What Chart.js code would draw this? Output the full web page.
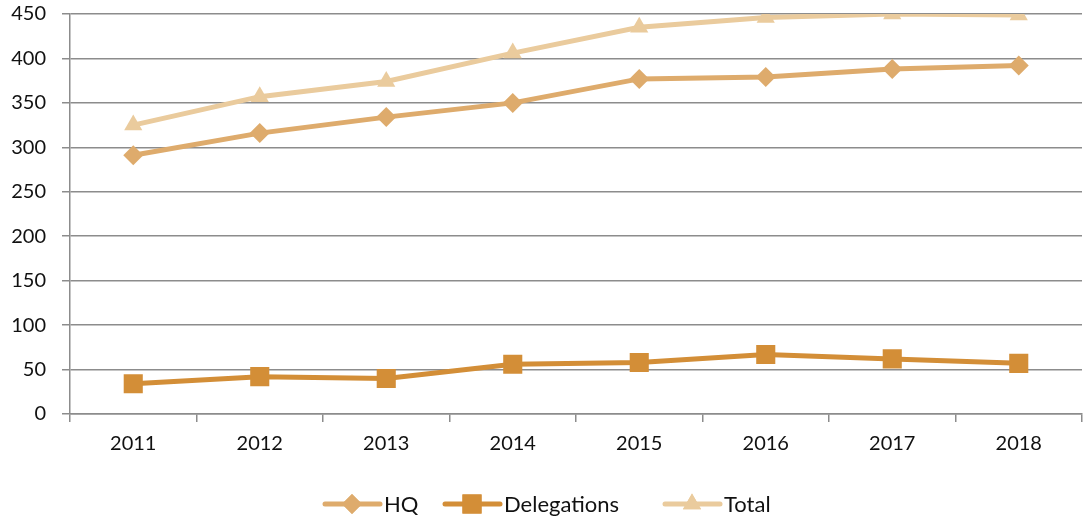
<!DOCTYPE html>
<html>
<head>
<meta charset="utf-8">
<script src="https://cdn.jsdelivr.net/npm/chart.js@4/dist/chart.umd.min.js"></script>
<style>
  html, body { margin: 0; padding: 0; background: #fff; overflow: hidden; }
  #wrap { width: 1086px; height: 519px; position: relative; }
  canvas { display: block; }
</style>
</head>
<body>
<div id="wrap"><canvas id="chartOne"></canvas></div>
<script>
const years = ['2011','2012','2013','2014','2015','2016','2017','2018'];
const hq = [291, 316, 334, 350, 377, 379, 388, 392];
const delegations = [34, 42, 40, 56, 58, 67, 62, 57];
const total = [325, 357, 374, 406, 435, 446, 450, 449];
const yTicks = [0, 50, 100, 150, 200, 250, 300, 350, 400, 450];

const fontFamily = 'Lato, "Open Sans", sans-serif';
const gridColor = '#8c8c8c';

// legend drawn by hand so each entry shows line + marker
const lineLegend = {
  id: 'lineLegend',
  afterDraw(chart) {
    const ctx = chart.ctx;
    const y = 504;
    const starts = [325, 445, 665];
    ctx.save();
    chart.data.datasets.forEach((ds, i) => {
      const x0 = starts[i];
      ctx.strokeStyle = ds.borderColor;
      ctx.lineWidth = 5;
      ctx.lineCap = 'round';
      ctx.beginPath();
      ctx.moveTo(x0, y);
      ctx.lineTo(x0 + 55, y);
      ctx.stroke();
      ctx.fillStyle = ds.pointBackgroundColor;
      Chart.helpers.drawPoint(ctx, {pointStyle: ds.pointStyle, radius: ds.pointRadius, borderWidth: 0}, x0 + 27, y);
      ctx.fill();
      ctx.fillStyle = '#111';
      ctx.font = '22px ' + fontFamily;
      ctx.textBaseline = 'middle';
      ctx.textAlign = 'left';
      ctx.fillText(ds.label, x0 + 59, y + 1);
    });
    ctx.restore();
  }
};

let ctxOne = document.getElementById('chartOne').getContext('2d');

let staffChart = new Chart(ctxOne, {
  type: 'line',
  data: {
    labels: years,
    datasets: [{
      label: 'HQ',
      data: hq,
      borderColor: '#DEAB6C',
      backgroundColor: '#DEAB6C',
      pointBackgroundColor: '#DEAB6C',
      pointBorderWidth: 0,
      borderWidth: 5,
      pointStyle: 'rectRot',
      pointRadius: 10,
      tension: 0
    }, {
      label: 'Delegations',
      data: delegations,
      borderColor: '#D38E37',
      backgroundColor: '#D38E37',
      pointBackgroundColor: '#D38E37',
      pointBorderWidth: 0,
      borderWidth: 5,
      pointStyle: 'rect',
      pointRadius: 13.5,
      tension: 0
    }, {
      label: 'Total',
      data: total,
      borderColor: '#EACB9D',
      backgroundColor: '#EACB9D',
      pointBackgroundColor: '#EACB9D',
      pointBorderWidth: 0,
      borderWidth: 5,
      pointStyle: 'triangle',
      pointRadius: 10.5,
      tension: 0
    }]
  },
  options: {
    responsive: true,
    maintainAspectRatio: false,
    animation: false,
    layout: { autoPadding: false, padding: { top: 14, right: 4, bottom: 53, left: 0 } },
    plugins: {
      legend: { display: false },
      tooltip: { enabled: false }
    },
    scales: {
      x: {
        offset: true,
        afterFit(scale) { scale.paddingLeft = 0; scale.paddingRight = 0; },
        grid: {
          offset: true,
          drawOnChartArea: false,
          color: gridColor,
          lineWidth: 1.5,
          tickLength: 8
        },
        border: { color: gridColor, width: 1.5 },
        ticks: {
          color: '#111',
          font: { family: fontFamily, size: 20 },
          padding: 10,
          maxRotation: 0
        }
      },
      y: {
        min: 0,
        max: 450,
        afterBuildTicks(axis) { axis.ticks = yTicks.map(v => ({ value: v })); },
        afterFit(scale) { scale.width = 70; scale.paddingTop = 0; scale.paddingBottom = 0; },
        grid: {
          color: gridColor,
          lineWidth: 1.5,
          tickLength: 8
        },
        border: { color: gridColor, width: 1.5 },
        ticks: {
          color: '#111',
          font: { family: fontFamily, size: 20 },
          padding: 16
        }
      }
    }
  },
  plugins: [lineLegend]
});
</script>
</body>
</html>
